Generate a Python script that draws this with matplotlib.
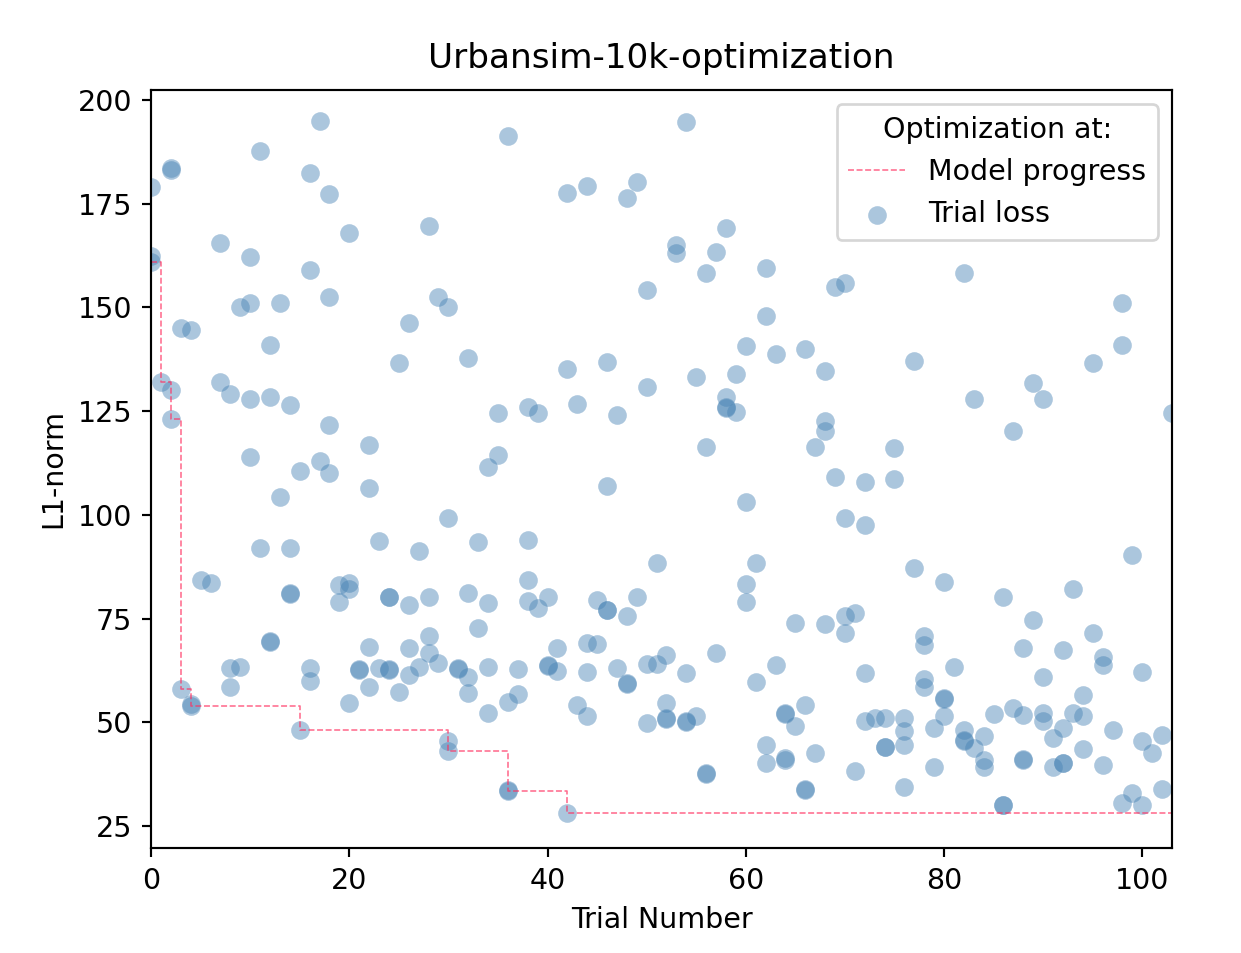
"""
Urbansim-10k-optimization: trial loss scatter plus best-so-far step line.
"""
import numpy as np
import pandas as pd
import matplotlib
matplotlib.use('Agg')
import matplotlib.pyplot as plt

plt.rcParams['font.size'] = 10.6

# ── trial losses (trial number, L1-norm) ──
trial = [
    0, 0, 0, 1, 2, 2, 2, 2, 3, 3, 4, 4, 4, 5, 6, 7, 7, 8, 8, 8,
    9, 9, 10, 10, 10, 10, 11, 11, 12, 12, 12, 12, 13, 13, 14, 14, 14, 14,
    15, 15, 16, 16, 16, 16, 17, 17, 18, 18, 18, 18, 19, 19, 20, 20, 20, 20,
    21, 21, 22, 22, 22, 22, 23, 23, 24, 24, 24, 24, 25, 25, 26, 26, 26, 26,
    27, 27, 28, 28, 28, 28, 29, 29, 30, 30, 30, 30, 31, 31, 32, 32, 32, 32,
    33, 33, 34, 34, 34, 34, 35, 35, 36, 36, 36, 36, 37, 37, 38, 38, 38, 38,
    39, 39, 40, 40, 40, 41, 41, 42, 42, 42, 43, 43, 44, 44, 44, 44, 45, 45,
    46, 46, 46, 46, 47, 47, 48, 48, 48, 48, 49, 49, 50, 50, 50, 50, 51, 51,
    52, 52, 52, 52, 53, 53, 54, 54, 54, 54, 55, 55, 56, 56, 56, 56, 57, 57,
    58, 58, 58, 58, 59, 59, 60, 60, 60, 60, 61, 61, 62, 62, 62, 62, 63, 63,
    64, 64, 64, 64, 65, 65, 66, 66, 66, 66, 67, 67, 68, 68, 68, 68, 69, 69,
    70, 70, 70, 70, 71, 71, 72, 72, 72, 72, 73, 74, 74, 74, 75, 75,
    76, 76, 76, 76, 77, 77, 78, 78, 78, 78, 79, 79, 80, 80, 80, 80, 81,
    82, 82, 82, 82, 83, 83, 84, 84, 84, 85, 86, 86, 86, 87, 87,
    88, 88, 88, 88, 89, 89, 90, 90, 90, 90, 91, 91, 92, 92, 92, 92, 93, 93,
    94, 94, 94, 95, 95, 96, 96, 96, 97, 98, 98, 98, 99, 99, 100, 100, 100,
    101, 102, 102, 103,
]
loss = [
    179, 161, 162.5, 132, 183, 183.5, 130, 123, 145, 58, 144.5, 54.5, 54, 84.3, 83.5, 165.6, 132, 129, 63, 58.6,
    150.2, 63.4, 162.2, 151, 128, 114, 187.7, 92, 141, 128.3, 69.5, 69.3, 151, 104.2, 126.5, 92, 81.2, 81,
    110.5, 48.2, 182.3, 159, 63, 60, 194.8, 113, 177.3, 152.4, 121.7, 110, 83, 79, 168, 83.5, 82, 54.6,
    62.8, 62.5, 116.8, 106.4, 68.2, 58.6, 93.7, 63, 80.3, 80.1, 62.8, 62.5, 136.7, 57.4, 146.2, 78.3, 67.8, 61.4,
    91.3, 63.4, 169.5, 80.1, 70.9, 66.6, 152.4, 64.2, 150, 99.2, 45.5, 43, 63, 62.8, 137.9, 81.1, 61, 57,
    93.4, 72.8, 111.5, 78.7, 63.4, 52.2, 124.6, 114.4, 191.4, 55, 33.7, 33.5, 62.9, 56.7, 126.1, 93.9, 84.3, 79.2,
    124.5, 77.6, 80.1, 63.8, 63.5, 68, 62.4, 177.5, 135.2, 28.1, 126.7, 54.2, 179.3, 69, 62.2, 51.4, 79.5, 68.8,
    136.9, 107, 77.1, 77, 124.1, 63, 176.3, 75.7, 59.5, 59.3, 180.3, 80.3, 154.2, 130.7, 64, 49.8, 88.3, 64,
    66.2, 54.6, 51, 50.8, 165.1, 163.1, 194.6, 61.8, 50.3, 50.1, 133.1, 51.4, 158.2, 116.4, 37.7, 37.5, 163.4, 66.6,
    169.1, 128.5, 126, 125.7, 133.9, 124.9, 140.7, 103.2, 83.3, 79.1, 88.3, 59.8, 159.6, 147.9, 44.5, 40.3, 138.7, 63.8,
    52.2, 52, 41.3, 41, 73.9, 49, 139.9, 54.2, 33.9, 33.7, 116.4, 42.5, 134.7, 122.5, 120.1, 73.6, 155, 109.2,
    155.8, 99.3, 75.5, 71.5, 76.3, 38.3, 107.9, 97.6, 61.8, 50.3, 51, 51, 44.1, 44, 116, 108.7,
    51, 47.8, 44.5, 34.3, 137, 87.3, 70.7, 68.7, 60.4, 58.6, 48.6, 39.3, 83.9, 55.8, 55.5, 51.4, 63.4,
    158.2, 48.2, 45.8, 45.6, 127.9, 43.8, 46.6, 40.9, 39.3, 52, 80.1, 30.1, 30, 120.1, 53.4,
    67.9, 51.8, 41.1, 41, 131.7, 74.7, 127.9, 61, 52.2, 50.2, 46.2, 39.3, 67.3, 48.6, 40.3, 40.1, 82.1, 52.2,
    56.6, 51.4, 43.5, 136.5, 71.5, 65.8, 63.8, 39.7, 48.2, 151, 141, 30.5, 90.4, 32.9, 62, 45.4, 30.1,
    42.6, 47, 33.9, 124.5,
]

df = pd.DataFrame({"trial": trial, "loss": loss})

# best loss reached so far, one value per trial number
best = df.groupby("trial")["loss"].min().cummin()

# ── figure ──
fig = plt.figure(figsize=(1241 / 194, 953 / 194), dpi=194)
ax = fig.add_axes([0.1217, 0.1102, 0.8227, 0.7954])

ax.plot(best.index, best.values, drawstyle="steps-post", color="#ff3060",
        linestyle="--", linewidth=0.6, alpha=0.7, label="Model progress")
ax.scatter(df["trial"], df["loss"], s=48, color="steelblue", alpha=0.45,
           linewidths=0, label="Trial loss")

ax.set_title("Urbansim-10k-optimization", pad=8)
ax.set_xlabel("Trial Number")
ax.set_ylabel("L1-norm")
ax.set_xlim(0, 103)
ax.set_ylim(19.7, 202.4)
ax.set_xticks(np.arange(0, 101, 20))
ax.set_yticks(np.arange(25, 201, 25))
ax.legend(title="Optimization at:", loc="upper right")

fig.savefig("out.png", dpi=194)
